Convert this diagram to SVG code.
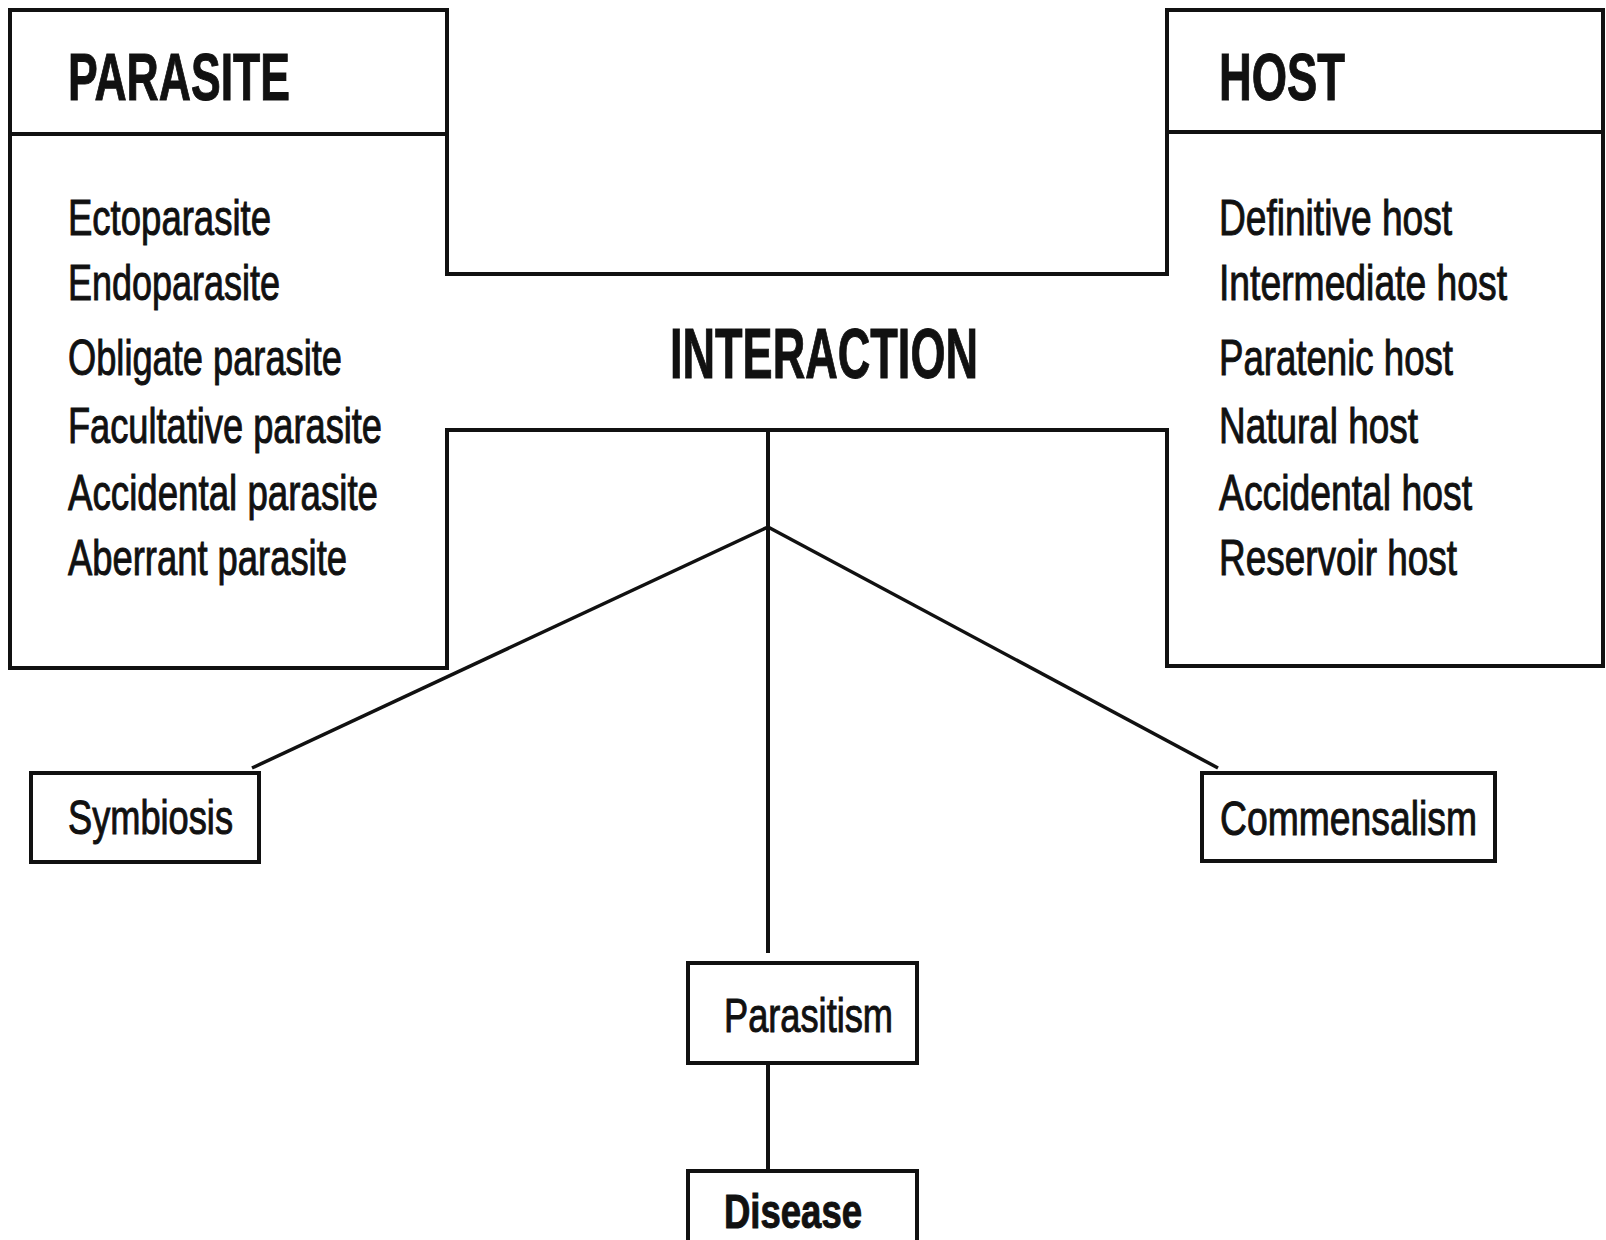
<svg xmlns="http://www.w3.org/2000/svg" width="1606" height="1240" viewBox="0 0 1606 1240">
<style>
.box{fill:none;stroke:#111;stroke-width:4;stroke-linejoin:miter}
.ln{fill:none;stroke:#111;stroke-width:4}
.dg{fill:none;stroke:#111;stroke-width:3.5}
.t{font-family:"Liberation Sans",Arial,sans-serif;fill:#111;stroke:#111;stroke-width:1}
.it{font-size:50px}
.hd{font-size:66px;font-weight:bold}
.sm{font-size:49px}
</style>
<rect width="1606" height="1240" fill="#fff"/>
<g id="parasite">
<path class="box" d="M447,274 V10 H10 V668 H447 V430"/>
<line class="ln" x1="10" y1="134" x2="447" y2="134"/>
<text class="t hd" x="68" y="100" textLength="222" lengthAdjust="spacingAndGlyphs">PARASITE</text>
<text class="t it" x="68" y="235" textLength="203" lengthAdjust="spacingAndGlyphs">Ectoparasite</text>
<text class="t it" x="68" y="300" textLength="212" lengthAdjust="spacingAndGlyphs">Endoparasite</text>
<text class="t it" x="68" y="375" textLength="274" lengthAdjust="spacingAndGlyphs">Obligate parasite</text>
<text class="t it" x="68" y="443" textLength="314" lengthAdjust="spacingAndGlyphs">Facultative parasite</text>
<text class="t it" x="68" y="510" textLength="310" lengthAdjust="spacingAndGlyphs">Accidental parasite</text>
<text class="t it" x="68" y="575" textLength="279" lengthAdjust="spacingAndGlyphs">Aberrant parasite</text>
</g>
<g id="host">
<path class="box" d="M1167,274 V10 H1603 V666 H1167 V430"/>
<line class="ln" x1="1167" y1="132" x2="1603" y2="132"/>
<text class="t hd" x="1219" y="100" textLength="126" lengthAdjust="spacingAndGlyphs">HOST</text>
<text class="t it" x="1219" y="235" textLength="233" lengthAdjust="spacingAndGlyphs">Definitive host</text>
<text class="t it" x="1219" y="300" textLength="288" lengthAdjust="spacingAndGlyphs">Intermediate host</text>
<text class="t it" x="1219" y="375" textLength="234" lengthAdjust="spacingAndGlyphs">Paratenic host</text>
<text class="t it" x="1219" y="443" textLength="199" lengthAdjust="spacingAndGlyphs">Natural host</text>
<text class="t it" x="1219" y="510" textLength="253" lengthAdjust="spacingAndGlyphs">Accidental host</text>
<text class="t it" x="1219" y="575" textLength="238" lengthAdjust="spacingAndGlyphs">Reservoir host</text>
</g>
<g id="interaction">
<line class="ln" x1="445" y1="274" x2="1169" y2="274"/>
<line class="ln" x1="445" y1="430" x2="1169" y2="430"/>
<text class="t" x="670" y="378" font-size="71" font-weight="bold" textLength="308" lengthAdjust="spacingAndGlyphs">INTERACTION</text>
</g>
<g id="symbiosis">
<rect class="box" x="31" y="773" width="228" height="89"/>
<text class="t sm" x="68" y="834" textLength="165" lengthAdjust="spacingAndGlyphs">Symbiosis</text>
</g>
<g id="commensalism">
<rect class="box" x="1202" y="773" width="293" height="88"/>
<text class="t sm" x="1220" y="835" textLength="257" lengthAdjust="spacingAndGlyphs">Commensalism</text>
</g>
<g id="parasitism">
<rect class="box" x="688" y="963" width="229" height="100"/>
<text class="t sm" x="724" y="1032" textLength="169" lengthAdjust="spacingAndGlyphs">Parasitism</text>
</g>
<g id="disease">
<path class="box" d="M688,1260 V1171 H917 V1260"/>
<text class="t sm" x="724" y="1228" font-weight="bold" textLength="138" lengthAdjust="spacingAndGlyphs">Disease</text>
</g>
<g id="connectors">
<line class="ln" x1="768" y1="430" x2="768" y2="953"/>
<line class="dg" x1="768" y1="527" x2="252" y2="768"/>
<line class="dg" x1="768" y1="527" x2="1218" y2="768"/>
<line class="ln" x1="768" y1="1063" x2="768" y2="1171"/>
</g>
</svg>
